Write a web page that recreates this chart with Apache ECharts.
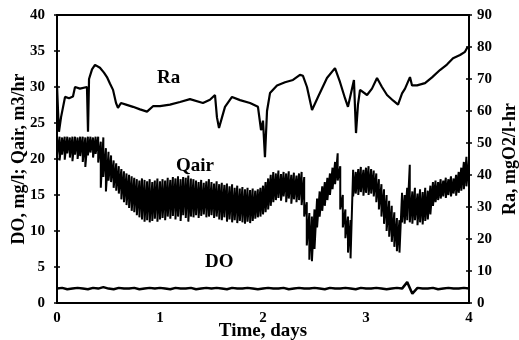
<!DOCTYPE html>
<html>
<head>
    <meta http-equiv="Content-Type" content="text/html; charset=utf-8" />
    <title>DO, Qair, Ra</title>
    <style type="text/css">
        * { margin: 0; padding: 0; }
        html, body { width: 100%; height: 100%; background: #fff; overflow: hidden; }
    </style>
</head>
<body>
    <div id="main" style="width: 519px;height:340px;"></div>
    <script type="text/javascript" src="https://cdn.jsdelivr.net/npm/echarts@6/dist/echarts.min.js"></script>
    <script type="text/javascript">
        // Ra, mgO2/l-hr (right axis) - irregular sample days
        const raDay = [0, 0.01, 0.019, 0.039, 0.078, 0.117, 0.155, 0.175, 0.223, 0.291, 0.301, 0.311, 0.34, 0.369, 0.417, 0.456, 0.485, 0.515, 0.544, 0.573, 0.592, 0.621, 0.67, 0.738, 0.806, 0.874, 0.932, 1.0, 1.097, 1.194, 1.291, 1.417, 1.485, 1.534, 1.553, 1.573, 1.602, 1.631, 1.699, 1.777, 1.874, 1.951, 1.981, 2.0, 2.019, 2.039, 2.068, 2.136, 2.214, 2.291, 2.359, 2.388, 2.427, 2.476, 2.534, 2.621, 2.699, 2.748, 2.796, 2.825, 2.883, 2.903, 2.922, 2.942, 3.01, 3.058, 3.107, 3.155, 3.204, 3.262, 3.311, 3.35, 3.379, 3.427, 3.447, 3.495, 3.573, 3.641, 3.718, 3.786, 3.845, 3.913, 3.961, 3.981, 4.0];
        const raVal = [68, 60, 53.5, 58, 64.4, 64, 64.5, 67.5, 67, 67.5, 53.5, 70, 73, 74.4, 73.5, 72, 70.6, 68.5, 66.6, 62.5, 61, 62.5, 62, 61.3, 60.5, 59.8, 61.5, 61.5, 62, 62.8, 63.7, 62.5, 63.5, 65, 58, 54.7, 58, 61.3, 64.4, 63.4, 62.5, 61.3, 54, 57, 45.6, 60, 65.6, 68, 69, 69.7, 71.3, 71, 67.5, 60.3, 64.4, 70.3, 73.4, 69, 64, 61.3, 69.7, 53.1, 62, 66.6, 65, 67, 70.3, 67.5, 65, 63.3, 62, 65.5, 67, 70.6, 68, 68, 68.7, 70.5, 72.8, 74.5, 76.5, 77.5, 78.5, 79.7, 80];

        // Qair, m3/hr (left axis) - upper and lower edge of the noisy trace, every 0.025 day
        const qStep = 0.025;
        const qairHi = [23.1, 23.1, 23.0, 23.1, 23.1, 23.0, 23.1, 23.1, 23.0, 23.1,
            23.1, 23.0, 23.1, 23.1, 23.0, 23.1, 23.1, 22.4, 23.0, 21.5,
            21.0, 20.5, 19.8, 19.4, 19.0, 18.6, 18.3, 18.0, 17.8, 17.6,
            17.4, 17.2, 17.0, 17.3, 17.1, 16.9, 17.2, 16.8, 17.0, 17.3,
            16.9, 17.2, 17.0, 17.4, 17.1, 17.5, 17.3, 17.6, 17.2, 17.5,
            17.4, 17.7, 17.3, 17.2, 17.0, 16.8, 17.1, 16.7, 16.9, 17.2,
            16.8, 16.6, 16.9, 16.5, 16.7, 16.4, 16.6, 16.2, 16.5, 16.0,
            16.3, 15.9, 16.1, 15.8, 16.0, 15.7, 15.9, 15.6, 15.8, 16.0,
            16.3, 16.8, 17.3, 17.8, 18.2, 18.0, 18.4, 17.9, 18.2, 18.0,
            18.3, 17.8, 18.1, 17.7, 18.0, 18.2, 17.5, 14.0, 12.5, 12.0,
            13.0, 14.5, 15.5, 16.2, 16.8, 17.4, 18.0, 18.8, 19.6, 20.8,
            19.0, 15.0, 13.0, 12.0, 11.5, 18.5, 18.2, 18.6, 18.9, 18.5,
            18.8, 19.0, 18.6, 18.4, 18.0, 17.2, 16.5, 15.8, 15.0, 14.2,
            13.5, 12.6, 11.8, 11.5, 15.3, 15.0, 16.0, 19.2, 15.5, 16.0,
            15.2, 15.8, 15.4, 16.0, 15.6, 16.3, 16.8, 17.0, 16.8, 17.2,
            17.0, 17.4, 17.2, 17.6, 17.3, 17.8, 18.2, 18.8, 19.6, 20.3,
            20.0];
        const qairLo = [20.5, 19.8, 20.6, 19.9, 20.8, 20.2, 19.7, 20.6, 20.0, 20.4,
            19.6, 18.9, 20.5, 20.9, 20.2, 20.7, 19.5, 16.0, 17.5, 15.5,
            17.0, 16.8, 16.0, 15.6, 15.2, 14.4, 14.0, 13.6, 13.2, 12.8,
            12.6, 12.2, 11.9, 11.6, 11.3, 11.5, 11.2, 11.4, 11.7, 11.3,
            11.6, 11.8, 11.5, 12.0, 11.7, 12.1, 11.6, 12.0, 11.4, 12.2,
            11.8, 11.3, 12.0, 11.9, 12.2, 11.8, 12.1, 12.3, 11.9, 12.0,
            12.2, 11.8, 12.0, 11.6, 11.5, 11.9, 11.3, 11.6, 11.2, 11.5,
            11.1, 11.4, 11.2, 11.0, 11.3, 11.1, 11.4, 11.7, 11.9, 12.0,
            12.3, 12.6, 13.0, 13.5, 14.0, 14.3, 14.6, 14.2, 14.8, 14.0,
            14.5, 13.8, 14.4, 14.0, 14.3, 13.6, 12.0, 8.0, 6.0, 5.8,
            7.5, 10.5, 12.0, 12.8, 13.5, 14.3, 15.0, 15.8, 16.5, 17.0,
            13.0, 10.5, 9.0, 7.0, 6.2, 14.8, 15.2, 15.0, 15.4, 14.9,
            15.3, 15.0, 15.2, 14.8, 14.0, 13.0, 12.0, 11.0, 10.0, 9.2,
            8.5, 7.8, 7.2, 7.0, 11.2, 11.0, 11.5, 11.2, 11.0, 11.5,
            10.8, 11.2, 10.9, 11.4, 11.6, 12.3, 13.5, 14.0, 14.3, 14.5,
            14.8, 14.6, 15.0, 14.8, 15.2, 14.9, 15.3, 15.6, 15.8, 16.2,
            16.7];

        // DO, mg/l (left axis) - every 0.05 day
        const doStep = 0.05;
        const doVal = [2.0, 2.1, 1.9, 2.0, 2.1, 2.0, 1.9, 2.1, 2.0, 2.2,
            2.0, 1.9, 2.1, 2.0, 2.0, 2.1, 1.9, 2.0, 2.1, 2.0,
            2.1, 2.0, 1.9, 2.1, 2.0, 2.0, 2.1, 1.9, 2.0, 2.1,
            2.0, 2.1, 2.0, 1.9, 2.1, 2.0, 2.0, 2.1, 2.0, 1.9,
            2.0, 2.1, 2.0, 2.0, 2.1, 1.9, 2.0, 2.1, 2.0, 2.0,
            2.1, 2.0, 1.9, 2.1, 2.0, 2.0, 2.1, 2.0, 1.9, 2.1,
            2.0, 2.0, 2.1, 2.0, 1.9, 2.0, 2.1, 2.0, 2.9, 1.3,
            2.1, 2.0, 2.0, 2.1, 1.9, 2.0, 2.1, 2.0, 2.0, 2.1,
            2.0];

        const xTicks = [0, 1, 2, 3, 4];

        // build series data
        const raData = raDay.map((d, i) => [d, raVal[i]]);
        const qairData = [];
        qairHi.forEach((h, i) => {
            const d = +(i * qStep).toFixed(3);
            qairData.push([d, h]);
            qairData.push([d, qairLo[i]]);
        });
        const doData = doVal.map((v, i) => [+(i * doStep).toFixed(3), v]);

        const FONT = 'Liberation Serif';
        const axisText = { color: '#000', fontFamily: FONT, fontWeight: 'bold', fontSize: 15 };
        const nameText = { color: '#000', fontFamily: FONT, fontWeight: 'bold', fontSize: 18 };
        const line2 = { show: true, lineStyle: { color: '#000', width: 2 } };

        const chart = echarts.init(document.getElementById('main'), null, { renderer: 'canvas' });
        chart.setOption({
            animation: false,
            backgroundColor: '#fff',
            grid: {
                left: 57, right: 50, top: 15, bottom: 37, outerBoundsMode: 'none', containLabel: false,
                show: true, borderColor: '#000', borderWidth: 2
            },
            xAxis: {
                type: 'value', min: 0, max: 4, interval: 1,
                name: 'Time, days', nameLocation: 'middle', nameGap: 19, nameMoveOverlap: false,
                nameTextStyle: Object.assign({}, nameText, { fontSize: 19 }),
                axisLine: line2, axisTick: { show: false }, splitLine: { show: false },
                axisLabel: Object.assign({ margin: 8, formatter: v => xTicks.includes(v) ? String(v) : '' }, axisText)
            },
            yAxis: [{
                type: 'value', min: 0, max: 40, interval: 5, position: 'left',
                name: 'DO, mg/l; Qair, m3/hr', nameLocation: 'middle', nameGap: 29, nameRotate: 90, nameMoveOverlap: false,
                nameTextStyle: nameText,
                axisLine: line2, splitLine: { show: false },
                axisTick: { show: true, length: 3, lineStyle: { color: '#000', width: 1.5 } },
                axisLabel: Object.assign({ margin: 12 }, axisText)
            }, {
                type: 'value', min: 0, max: 90, interval: 10, position: 'right',
                name: 'Ra, mgO2/l-hr', nameLocation: 'middle', nameGap: 32, nameRotate: 90, nameMoveOverlap: false,
                nameTextStyle: nameText,
                axisLine: line2, splitLine: { show: false },
                axisTick: { show: true, length: 3, lineStyle: { color: '#000', width: 1.5 } },
                axisLabel: Object.assign({ margin: 8 }, axisText)
            }, {
                // inner half of the cross ticks, left
                type: 'value', min: 0, max: 40, interval: 5, position: 'left',
                axisLine: { show: false }, splitLine: { show: false }, axisLabel: { show: false },
                axisTick: { show: true, inside: true, length: 3, lineStyle: { color: '#000', width: 1.5 } }
            }, {
                // inner half of the cross ticks, right
                type: 'value', min: 0, max: 90, interval: 10, position: 'right',
                axisLine: { show: false }, splitLine: { show: false }, axisLabel: { show: false },
                axisTick: { show: true, inside: true, length: 3, lineStyle: { color: '#000', width: 1.5 } }
            }],
            graphic: [
                { type: 'text', left: 157, top: 69, style: { text: 'Ra', fill: '#000', font: 'bold 19px "Liberation Serif"' } },
                { type: 'text', left: 176, top: 157, style: { text: 'Qair', fill: '#000', font: 'bold 19px "Liberation Serif"' } },
                { type: 'text', left: 205, top: 253, style: { text: 'DO', fill: '#000', font: 'bold 19px "Liberation Serif"' } }
            ],
            series: [{
                name: 'Qair', type: 'line', yAxisIndex: 0, data: qairData,
                symbol: 'none', lineStyle: { color: '#000', width: 2 }
            }, {
                name: 'Ra', type: 'line', yAxisIndex: 1, data: raData,
                symbol: 'none', lineStyle: { color: '#000', width: 2.2 }
            }, {
                name: 'DO', type: 'line', yAxisIndex: 0, data: doData,
                symbol: 'none', lineStyle: { color: '#000', width: 2.5 }
            }]
        });
    </script>
</body>
</html>
